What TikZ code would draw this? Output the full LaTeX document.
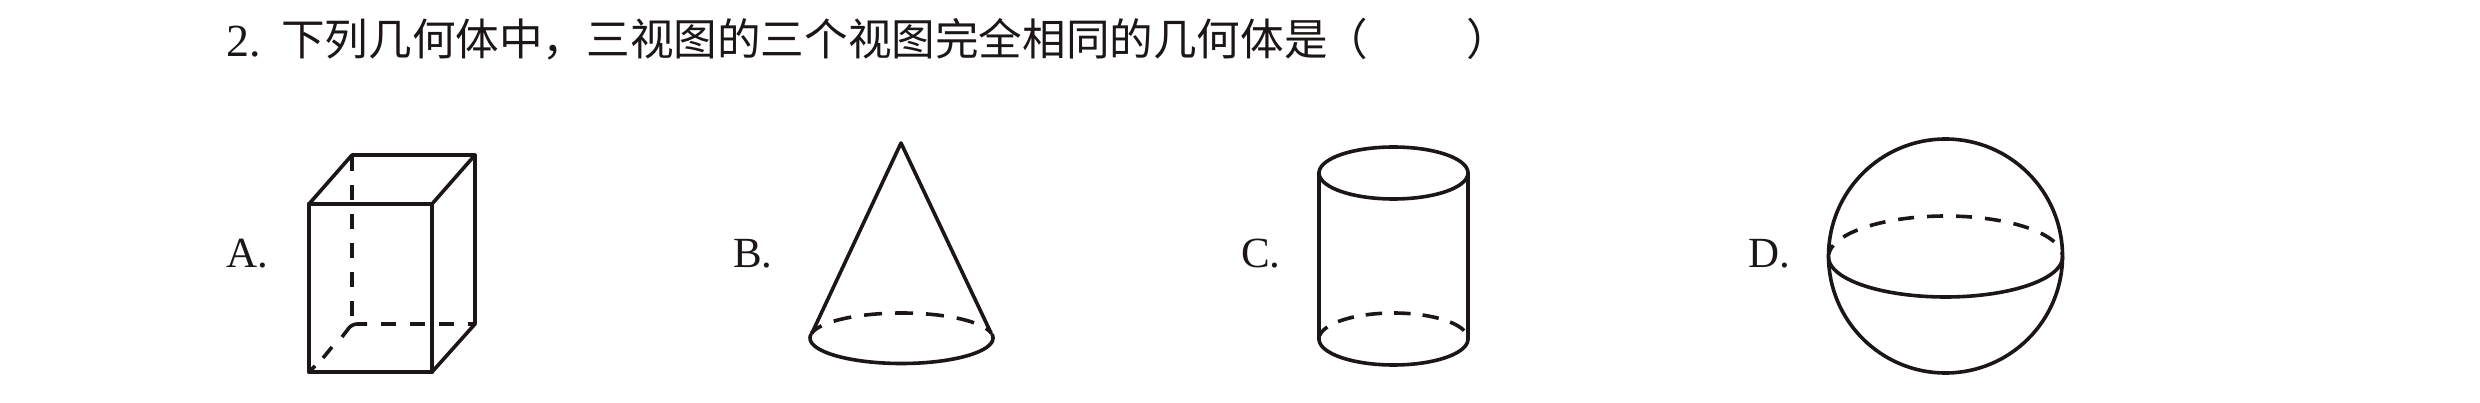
\documentclass[tikz,border=0pt]{standalone}
\usepackage{fontspec}
\setmainfont{Liberation Serif}
\newfontfamily\cjk{Noto Sans CJK SC}
\definecolor{ink}{HTML}{1C1616}
\tikzset{
  solidline/.style={draw=ink,line width=3.6pt,line join=round,line cap=round},
  thickline/.style={draw=ink,line width=4.2pt,line join=round,line cap=round},
  dashline/.style={draw=ink,line width=3.6pt,line cap=butt,line join=round},
  latin/.style={anchor=base west,inner sep=0pt,text=ink,font=\fontsize{43}{43}\selectfont},
  hanzi/.style={anchor=base west,inner sep=0pt,text=ink,font=\cjk\fontsize{43.6}{44}\selectfont}
}
\begin{document}
\begin{tikzpicture}[x=1pt,y=-1pt]
\useasboundingbox (0,0) rectangle (2480,403);
\fill[white] (0,0) rectangle (2480,403);
% question
\node[latin,font=\fontsize{46}{46}\selectfont] (num) at (226,57) {2.};
\node[hanzi] (q) at (281,55.5) {下列几何体中，三视图的三个视图完全相同的几何体是};
\node[hanzi] (lp) at (1324,55.5) {（};
\node[hanzi] (rp) at (1466,55.5) {）};
% labels
\node[latin] (A) at (226,268) {A.};
\node[latin] (B) at (733,268) {B.};
\node[latin] (C) at (1241,268) {C.};
\node[latin] (D) at (1748,268) {D.};
% A: box
\draw[thickline] (309,204) rectangle (432,372);
\draw[solidline] (309,204)--(352,155)--(475,155)--(432,204);
\draw[solidline] (475,155)--(475,324)--(432,372);
\draw[dashline,dash pattern=on 15pt off 14pt] (352,156)--(352,316);
\draw[dashline,dash pattern=on 15pt off 14pt] (381,324)--(475,324);
\draw[dashline,rounded corners=5pt] (342,337)--(352,324)--(367,324);
\draw[dashline] (323,358)--(332,347);
\draw[dashline] (309,372)--(315,366);
% B: cone
\draw[solidline] (812,333)--(901,143)--(991,333);
\draw[solidline] plot[smooth,samples=60,domain=172:368] ({901.5+91.5*cos(\x)},{338-25.5*sin(\x)});
\draw[dashline,dash pattern=on 18pt off 13pt,dash phase=5pt] plot[smooth,samples=60,domain=170:12] ({901.5+91.5*cos(\x)},{338-25*sin(\x)});
% C: cylinder
\draw[solidline] (1319,173)--(1319,339);
\draw[solidline] (1468,173)--(1468,339);
\draw[solidline] plot[smooth cycle,samples=72,domain=0:355] ({1393.5+74.5*cos(\x)},{173-26*sin(\x)});
\draw[solidline] plot[smooth,samples=60,domain=180:360] ({1393.5+74.5*cos(\x)},{339-26*sin(\x)});
\draw[dashline,dash pattern=on 16.5pt off 12pt,dash phase=5pt] plot[smooth,samples=60,domain=172:8] ({1393.5+74.5*cos(\x)},{339-26*sin(\x)});
% D: sphere
\draw[solidline] (1945.5,256) circle[radius=117];
\draw[solidline] plot[smooth,samples=60,domain=180:360] ({1945.5+117*cos(\x)},{257-40*sin(\x)});
\draw[dashline,dash pattern=on 16pt off 13pt,dash phase=6pt] plot[smooth,samples=80,domain=176:4] ({1945.5+117*cos(\x)},{257-41*sin(\x)});
\end{tikzpicture}
\end{document}
